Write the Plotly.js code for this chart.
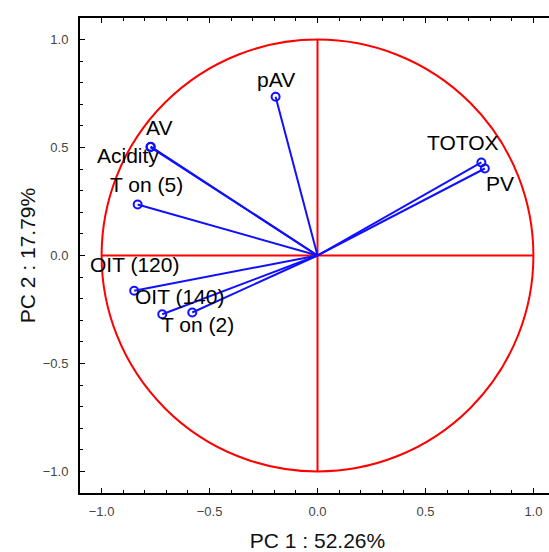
<!DOCTYPE html>
<html>
<head>
<meta charset="utf-8">
<script src="https://cdn.plot.ly/plotly-3.0.1.min.js"></script>
<style>
html,body{margin:0;padding:0;overflow:hidden;background:#fff;}
</style>
</head>
<body>
<div id="chart"></div>
<script>
// Variable loadings (PC1, PC2)
const variables = ["pAV", "AV", "Acidity", "T on (5)", "OIT (120)", "OIT (140)", "T on (2)", "TOTOX", "PV"];
const pc1 = [-0.194, -0.772, -0.774, -0.833, -0.849, -0.719, -0.580, 0.759, 0.775];
const pc2 = [0.735, 0.504, 0.502, 0.236, -0.163, -0.272, -0.264, 0.431, 0.403];
// Label offsets in pixels (dx, dy) relative to each point
const labelDx = [0, 8, -22, 9, 0, 17, 5, -18, 15];
const labelDy = [17, 19, -8, 20, 26, 18, -12, 20, -15];
const xTitle = "PC 1 : 52.26%";
const yTitle = "PC 2 : 17.79%";

// Build vectors from origin
const lx = [], ly = [];
for (let i = 0; i < variables.length; i++) {
  lx.push(0, pc1[i], null);
  ly.push(0, pc2[i], null);
}

const blue = "#1010ff";
const traces = [
  {x: lx, y: ly, mode: "lines", type: "scatter", line: {color: blue, width: 2}, hoverinfo: "skip", cliponaxis: false},
  {x: pc1, y: pc2, mode: "markers", type: "scatter", text: variables,
   marker: {symbol: "circle-open", size: 8, color: blue, line: {width: 2, color: blue}}, cliponaxis: false}
];

const font = "Liberation Sans, Arial, sans-serif";
const annotations = variables.map((v, i) => ({
  x: pc1[i], y: pc2[i], xref: "x", yref: "y", text: v, showarrow: false,
  xshift: labelDx[i], yshift: labelDy[i],
  font: {family: font, size: 21, color: "#000"}
}));

const red = "#ff0000";
const shapes = [
  {type: "circle", xref: "x", yref: "y", x0: -1, x1: 1, y0: -1, y1: 1, line: {color: red, width: 2}, layer: "below"},
  {type: "line", xref: "x", yref: "y", x0: -1, x1: 1, y0: 0, y1: 0, line: {color: red, width: 2}, layer: "below"},
  {type: "line", xref: "x", yref: "y", x0: 0, x1: 0, y0: -1, y1: 1, line: {color: red, width: 2}, layer: "below"}
];

const axisCommon = {
  range: [-1.1, 1.1], dtick: 0.5, tick0: 0, tickformat: ".1f",
  ticks: "inside", ticklen: 5, tickwidth: 1.5, tickcolor: "#000",
  minor: {dtick: 0.1, ticks: "inside", ticklen: 3, tickwidth: 1, tickcolor: "#000", showgrid: false},
  showline: true, linecolor: "#000", linewidth: 2, mirror: "ticks",
  showgrid: false, zeroline: false,
  tickfont: {family: font, size: 13, color: "#444"}
};

const layout = {
  width: 560, height: 552,
  margin: {l: 80, r: 5, t: 18, b: 59},
  paper_bgcolor: "#fff", plot_bgcolor: "#fff",
  showlegend: false,
  xaxis: Object.assign({}, axisCommon, {
    ticklabelstandoff: 5,
    title: {text: xTitle, font: {family: font, size: 21, color: "#111"}, standoff: 17}
  }),
  yaxis: Object.assign({}, axisCommon, {
    ticklabelstandoff: 7,
    title: {text: yTitle, font: {family: font, size: 21, color: "#111"}, standoff: 1}
  }),
  shapes: shapes,
  annotations: annotations
};

Plotly.newPlot("chart", traces, layout, {displayModeBar: false, staticPlot: true});
</script>
</body>
</html>
